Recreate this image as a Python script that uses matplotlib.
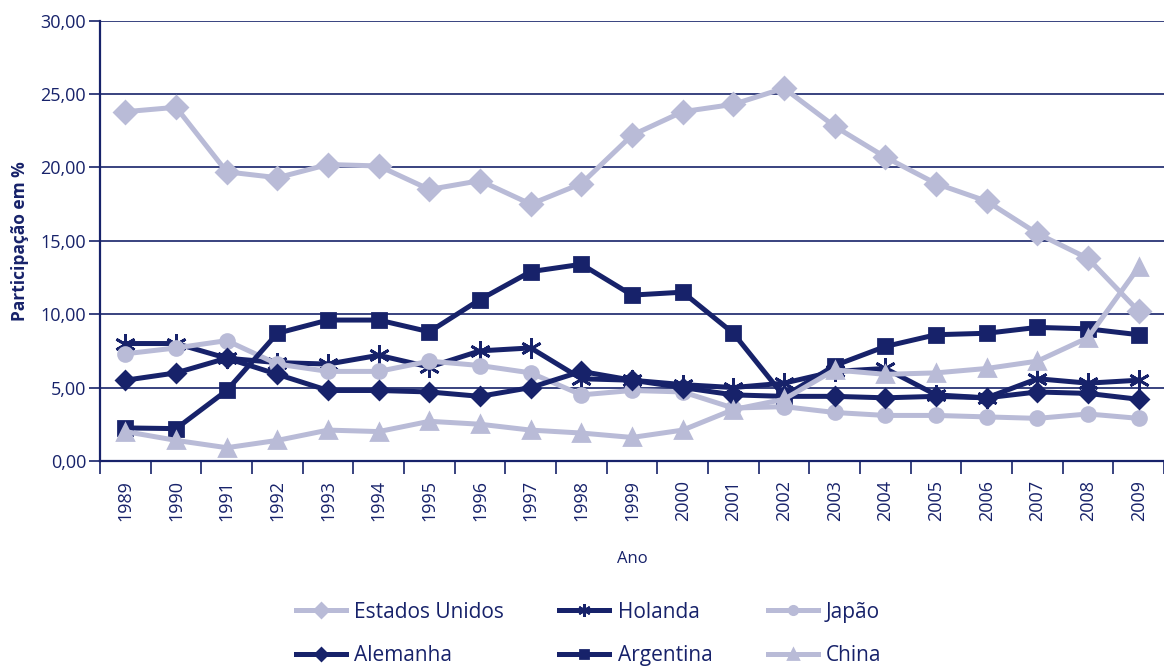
import numpy as np
import matplotlib
matplotlib.use('Agg')
import matplotlib.pyplot as plt
from matplotlib.ticker import FuncFormatter

NAVY = '#17226a'
LILAC = '#b9bbd7'

years = [str(y) for y in range(1989, 2010)]

estados_unidos = [23.8, 24.1, 19.7, 19.3, 20.2, 20.1, 18.5, 19.1, 17.5, 18.9, 22.2,
                  23.8, 24.3, 25.4, 22.8, 20.7, 18.9, 17.7, 15.5, 13.8, 10.2]
holanda = [8.0, 8.0, 7.0, 6.7, 6.6, 7.2, 6.4, 7.5, 7.7, 5.6, 5.5,
           5.2, 5.0, 5.3, 6.1, 6.3, 4.5, 4.3, 5.6, 5.3, 5.5]
japao = [7.3, 7.7, 8.2, 6.6, 6.1, 6.1, 6.8, 6.5, 6.0, 4.5, 4.8,
         4.7, 3.6, 3.7, 3.3, 3.1, 3.1, 3.0, 2.9, 3.2, 2.9]
alemanha = [5.5, 6.0, 7.0, 5.9, 4.8, 4.8, 4.7, 4.4, 5.0, 6.1, 5.5,
            5.0, 4.5, 4.4, 4.4, 4.3, 4.4, 4.3, 4.7, 4.6, 4.2]
argentina = [2.25, 2.2, 4.8, 8.7, 9.6, 9.6, 8.8, 11.0, 12.9, 13.4, 11.3,
             11.5, 8.7, 4.4, 6.5, 7.8, 8.6, 8.7, 9.1, 9.0, 8.6]
china = [2.0, 1.4, 0.9, 1.4, 2.1, 2.0, 2.7, 2.5, 2.1, 1.9, 1.6,
         2.1, 3.5, 4.2, 6.2, 5.9, 6.0, 6.3, 6.8, 8.4, 13.2]

plt.rcParams['font.family'] = ['Open Sans', 'DejaVu Sans']

fig = plt.figure(figsize=(11.64, 6.68), dpi=100)
ax = fig.add_axes([0.086, 0.31, 0.914, 0.659])

x = np.arange(len(years))
lw = 3.6
series = [
    ('Estados Unidos', estados_unidos, LILAC, 'D', 11.5),
    ('Holanda', holanda, NAVY, (6, 2, 0), 15),
    ('Japão', japao, LILAC, 'o', 10),
    ('Alemanha', alemanha, NAVY, 'D', 9.5),
    ('Argentina', argentina, NAVY, 's', 10),
    ('China', china, LILAC, '^', 12),
]
handles = {}
for name, vals, col, mk, ms in series:
    h, = ax.plot(x, vals, color=col, lw=lw, marker=mk, ms=ms,
                 markerfacecolor=col, markeredgecolor=col, mew=2, label=name,
                 solid_joinstyle='miter', clip_on=False)
    handles[name] = h

ax.set_ylim(0, 30)
ax.set_xlim(-0.5, len(years) - 0.5)
ax.set_yticks(np.arange(0, 31, 5))
ax.yaxis.set_major_formatter(FuncFormatter(lambda v, p: f'{v:.2f}'.replace('.', ',')))
ax.grid(axis='y', color=NAVY, lw=1.2)
ax.set_axisbelow(True)

ax.set_xticks(x)
ax.set_xticklabels(years, rotation=90, fontsize=13, color=NAVY)
ax.set_xticks(np.arange(-0.5, len(years), 1), minor=True)
ax.tick_params(axis='x', which='major', length=0, pad=14)
ax.tick_params(axis='x', which='minor', length=9, width=1.2, color=NAVY)
ax.tick_params(axis='y', length=8, width=1.2, color=NAVY, labelcolor=NAVY,
               labelsize=13, pad=2)

for s in ['top', 'right']:
    ax.spines[s].set_visible(False)
for s in ['left', 'bottom']:
    ax.spines[s].set_color(NAVY)
    ax.spines[s].set_linewidth(1.6)

ax.set_ylabel('Participação em %', fontsize=12.5, fontweight='bold', color=NAVY,
              labelpad=8)
ax.set_xlabel('Ano', fontsize=12, color=NAVY, labelpad=21)

# legend: two rows of three, second row sits at the bottom edge like the source
order = ['Estados Unidos', 'Alemanha', 'Holanda', 'Argentina', 'Japão', 'China']
leg = fig.legend([handles[n] for n in order], order, ncol=3, loc='upper left',
                 bbox_to_anchor=(0.247, 0.112), frameon=False, fontsize=15,
                 handlelength=2.4, columnspacing=2.65, labelspacing=1.1,
                 markerscale=0.6, handletextpad=0.4, borderaxespad=0)
for t in leg.get_texts():
    t.set_color(NAVY)

fig.savefig('out.png', dpi=100)
